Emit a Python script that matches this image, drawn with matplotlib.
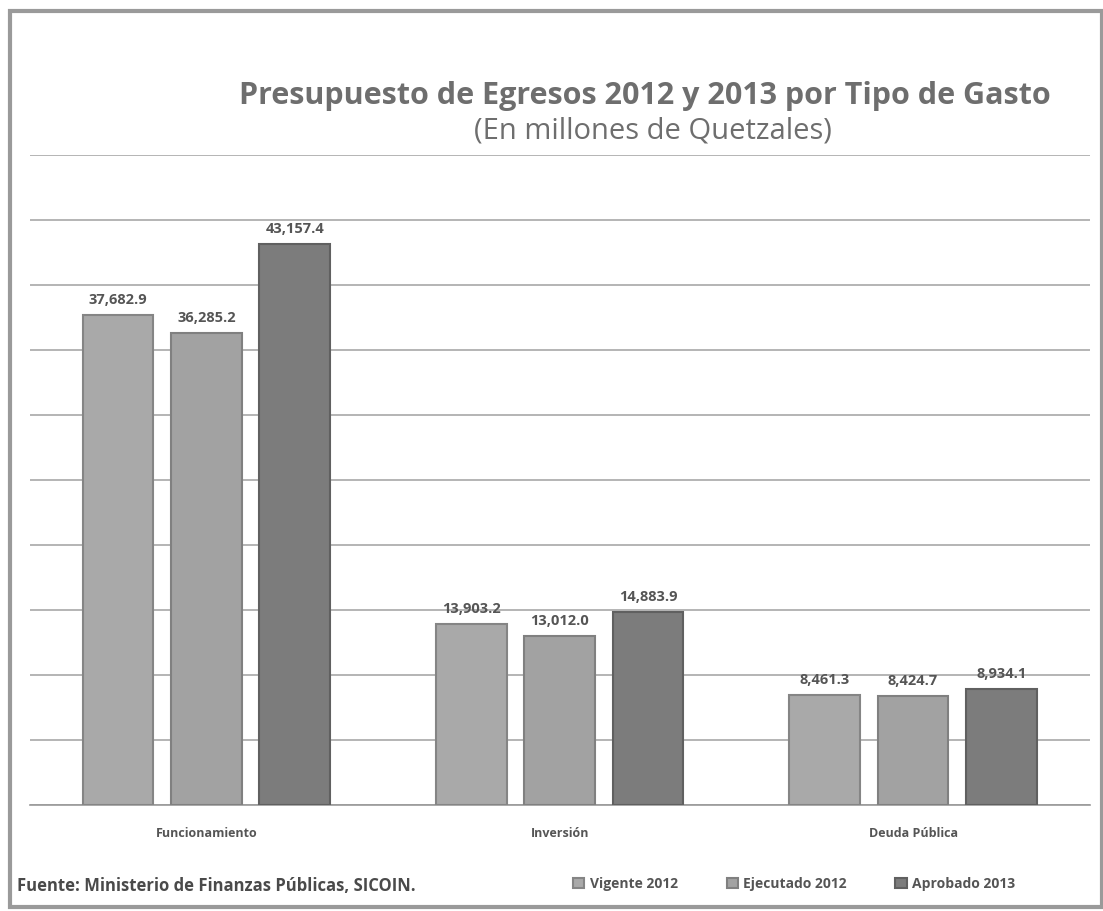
import numpy as np
import matplotlib.pyplot as plt
from matplotlib.patches import Rectangle

# data
categories = ["Funcionamiento", "Inversión", "Deuda Pública"]
series_names = ["Vigente 2012", "Ejecutado 2012", "Aprobado 2013"]
vigente_2012 = [37682.9, 13903.2, 8461.3]
ejecutado_2012 = [36285.2, 13012.0, 8424.7]
aprobado_2013 = [43157.4, 14883.9, 8934.1]

colors = ["#a9a9a9", "#a2a2a2", "#7c7c7c"]
edges = ["#858585", "#808080", "#606060"]

plt.rcParams["font.family"] = ["Open Sans", "DejaVu Sans"]

fig = plt.figure(figsize=(11.03, 9.11), dpi=100)
fig.patches.append(Rectangle((0.009, 0.004), 0.99, 0.984, transform=fig.transFigure,
                             fill=False, edgecolor="#9a9a9a", linewidth=3))

ax = fig.add_axes([0.027, 0.1163, 0.961, 0.7136])
x = np.arange(len(categories))
width = 0.2
offsets = [-0.25, 0.0, 0.25]
all_series = [vigente_2012, ejecutado_2012, aprobado_2013]

for s, (vals, off) in enumerate(zip(all_series, offsets)):
    bars = ax.bar(x + off, vals, width, color=colors[s], edgecolor=edges[s],
                  linewidth=1.5, label=series_names[s], zorder=3)
    for b, v in zip(bars, vals):
        ax.text(b.get_x() + b.get_width() / 2, v + 600, f"{v:,.1f}",
                ha="center", va="bottom", fontsize=10.5, fontweight="bold",
                color="#555555", zorder=4)

ax.set_xlim(-0.5, 2.5)
ax.set_ylim(0, 50000)
ax.set_yticks(np.arange(0, 50001, 5000))
ax.set_yticklabels([])
ax.tick_params(axis="y", length=0)
ax.tick_params(axis="x", length=0, pad=16)
ax.set_xticks(x)
ax.set_xticklabels(categories, fontsize=9, fontweight="bold", color="#555555")
ax.grid(axis="y", color="#a8a8a8", linewidth=1.2, zorder=0)
for sp in ["top", "right", "left"]:
    ax.spines[sp].set_visible(False)
ax.spines["bottom"].set_color("#999999")
ax.spines["bottom"].set_linewidth(1.2)

fig.text(0.585, 0.895, "Presupuesto de Egresos 2012 y 2013 por Tipo de Gasto",
         ha="center", va="center", fontsize=22, fontweight="bold", color="#6e6e6e")
fig.text(0.592, 0.856, "(En millones de Quetzales)",
         ha="center", va="center", fontsize=21, color="#6e6e6e")

fig.text(0.015, 0.027, "Fuente: Ministerio de Finanzas Públicas, SICOIN.",
         ha="left", va="center", fontsize=12, fontweight="bold", color="#4a4a4a")

leg = fig.legend(loc="center", bbox_to_anchor=(0.72, 0.03), ncol=3, frameon=False,
                 fontsize=10, handlelength=0.8, handleheight=0.8, columnspacing=3.5,
                 handletextpad=0.4)
for t in leg.get_texts():
    t.set_color("#555555")
    t.set_fontweight("bold")

fig.savefig("out.png", dpi=100)
